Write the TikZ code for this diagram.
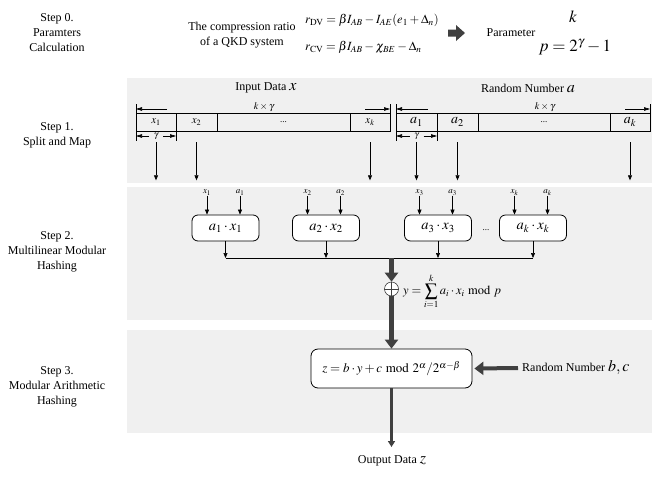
\documentclass[tikz,border=0pt]{standalone}
\usepackage{mathptmx}
\usepackage{fontspec}
\setmainfont{Liberation Serif}
\usetikzlibrary{arrows.meta}
\definecolor{bandgray}{HTML}{F0F0F0}
\definecolor{heavygray}{HTML}{404040}
\begin{document}
\begin{tikzpicture}[x=1pt,y=-1pt,
  lbl/.style={font=\fontsize{12}{15}\selectfont, align=center, inner sep=0},
  cell/.style={draw, line width=0.6pt, minimum height=18pt, inner sep=0, font=\fontsize{11}{13}\selectfont},
  mbox/.style={draw, rounded corners=6pt, line width=0.8pt, fill=white, minimum width=67pt, minimum height=26pt, inner sep=0, font=\fontsize{14.5}{16}\selectfont},
  thin/.style={-{Triangle[length=5pt,width=4pt]}, line width=0.6pt},
  dimarr/.style={-{Triangle[length=6pt,width=3.5pt]}, line width=0.6pt},
  heavy/.style={-{Triangle[length=9pt,width=13pt]}, line width=5pt, draw=heavygray},
  small/.style={font=\fontsize{9}{10}\selectfont, inner sep=0},
  band/.style={fill=bandgray, draw=none}]
\useasboundingbox (0,0) rectangle (654,491);
% bands
\fill[band] (127,78) rectangle (652,183);
\fill[band] (127,187) rectangle (652,320);
\fill[band] (127,330) rectangle (652,433);
% step labels
\node[lbl] (s0) at (57,33) {Step 0.\\Paramters\\Calculation};
\node[lbl] (s1) at (57,135) {Step 1.\\Split and Map};
\node[lbl] (s2) at (57,252) {Step 2.\\Multilinear Modular\\Hashing};
\node[lbl] (s3) at (57,387) {Step 3.\\Modular Arithmetic\\Hashing};
% step 0
\node[lbl] (cr) at (242,35) {The compression ratio\\of a QKD system};
\node[anchor=west, inner sep=0, font=\fontsize{12.5}{14}\selectfont] (rdv) at (305,20) {$r_{\mathrm{DV}} = \beta I_{AB} - I_{AE}(e_1+\Delta_n)$};
\node[anchor=west, inner sep=0, font=\fontsize{12.5}{14}\selectfont] (rcv) at (305,47) {$r_{\mathrm{CV}} = \beta I_{AB} - \chi_{BE} - \Delta_n$};
\fill[heavygray] (448,29.5) -- (456,29.5) -- (456,25) -- (465,33) -- (456,41) -- (456,36.5) -- (448,36.5) -- cycle;
\node[lbl] (par) at (511,33) {Parameter};
\node[inner sep=0, font=\fontsize{17}{17}\selectfont] (k) at (573,17) {$k$};
\node[inner sep=0, font=\fontsize{17}{17}\selectfont] (p) at (575,47) {$p=2^{\gamma}-1$};
% step 1 titles
\node[lbl] (inx) at (266,88) {Input Data \fontsize{16}{16}\selectfont$x$};
\node[lbl] (rna) at (528,88) {Random Number \fontsize{16}{16}\selectfont$a$};
% x cells
\node[cell, minimum width=40pt] (x1) at (156,122) {$x_1$};
\node[cell, minimum width=41pt] (x2) at (196.5,122) {$x_2$};
\node[cell, minimum width=133pt] (xd) at (283.5,122) {\fontsize{9}{9}\selectfont...};
\node[cell, minimum width=40pt] (xk) at (370,122) {$x_k$};
% a cells
\node[cell, minimum width=41pt, font=\fontsize{14}{14}\selectfont] (a1) at (416.5,122) {$a_1$};
\node[cell, minimum width=41pt, font=\fontsize{14}{14}\selectfont] (a2) at (457.5,122) {$a_2$};
\node[cell, minimum width=132pt] (ad) at (544,122) {\fontsize{9}{9}\selectfont...};
\node[cell, minimum width=40pt, font=\fontsize{14}{14}\selectfont] (ak) at (630,122) {$a_k$};
% dimension marks x
\coordinate (txa) at (136,104); \coordinate (txb) at (136,141);
\draw[line width=0.6pt] (txa) -- (txb);
\coordinate (txc) at (390,104); \coordinate (txd) at (390,113);
\draw[line width=0.6pt] (txc) -- (txd);
\coordinate (tge) at (176,131); \coordinate (tgf) at (176,141);
\draw[line width=0.6pt] (tge) -- (tgf);
\node[small, font=\fontsize{10}{10}\selectfont] (kgx) at (264,107) {$k\times\gamma$};
\coordinate (dx1) at (167,109); \coordinate (dx2) at (136,109);
\coordinate (dx3) at (365,109); \coordinate (dx4) at (390,109);
\draw[dimarr] (dx1) -- (dx2);
\draw[dimarr] (dx3) -- (dx4);
\node[small] (gx) at (156,136) {$\gamma$};
\coordinate (gx1) at (149,136); \coordinate (gx2) at (136,136);
\coordinate (gx3) at (163,136); \coordinate (gx4) at (176,136);
\draw[dimarr] (gx1) -- (gx2);
\draw[dimarr] (gx3) -- (gx4);
% dimension marks a
\coordinate (taa) at (396,104); \coordinate (tab) at (396,141);
\draw[line width=0.6pt] (taa) -- (tab);
\coordinate (tac) at (650,104); \coordinate (tad) at (650,113);
\draw[line width=0.6pt] (tac) -- (tad);
\coordinate (tae) at (437,131); \coordinate (taf) at (437,141);
\draw[line width=0.6pt] (tae) -- (taf);
\node[small, font=\fontsize{10}{10}\selectfont] (kga) at (545,107) {$k\times\gamma$};
\coordinate (da1) at (428,109); \coordinate (da2) at (396,109);
\coordinate (da3) at (625,109); \coordinate (da4) at (650,109);
\draw[dimarr] (da1) -- (da2);
\draw[dimarr] (da3) -- (da4);
\node[small] (ga) at (416.5,136) {$\gamma$};
\coordinate (ga1) at (409.5,136); \coordinate (ga2) at (396,136);
\coordinate (ga3) at (423.5,136); \coordinate (ga4) at (437,136);
\draw[dimarr] (ga1) -- (ga2);
\draw[dimarr] (ga3) -- (ga4);
% down arrows step 1
\foreach \n in {x1,x2,xk,a1,a2,ak}{
  \coordinate (\n e) at ([yshift=-49pt]\n.south);
  \draw[thin] ([yshift=-11pt]\n.south) -- (\n e);
}
% step 2 boxes
\node[mbox] (m1) at (225.5,228) {$a_1\cdot x_1$};
\node[mbox] (m2) at (326,228) {$a_2\cdot x_2$};
\node[mbox] (m3) at (438,228) {$a_3\cdot x_3$};
\node[mbox] (m4) at (533,228) {$a_k\cdot x_k$};
\node[small] (mdots) at (486,230) {...};
\foreach \m/\i in {m1/1,m2/2,m3/3,m4/k}{
  \node[small] (lx\m) at ([xshift=-18.5pt,yshift=22pt]\m.north) {$x_{\i}$};
  \node[small] (la\m) at ([xshift=14.5pt,yshift=22pt]\m.north) {$a_{\i}$};
  \draw[thin] (lx\m.south) -- (lx\m.south |- \m.north);
  \draw[thin] (la\m.south) -- (la\m.south |- \m.north);
}
\coordinate (busL) at (225.5,258);
\coordinate (busR) at (533,258);
\coordinate (busM) at (391.5,258);
\draw[line width=1pt] (busL) -- (busR);
\foreach \m in {m1,m2,m3,m4}{
  \draw[thin] (\m.south) -- (\m.south |- busL);
}
\node[circle, draw=heavygray, fill=white, line width=0.6pt, minimum size=14pt, inner sep=0] (op) at (391.5,289) {};
\draw[heavygray, line width=0.5pt] (op.north) -- (op.south) (op.west) -- (op.east);
\draw[heavy] (busM) -- (op.north);
\node[anchor=west, inner sep=0, font=\fontsize{12.5}{13}\selectfont] (yf) at (403,291) {$\displaystyle y=\sum_{i=1}^{k} a_i\cdot x_i \bmod p$};
% step 3
\node[draw, rounded corners=7pt, line width=0.8pt, fill=white, minimum width=161pt, minimum height=39pt, inner sep=0, font=\fontsize{13}{15}\selectfont] (zb) at (391.5,368.5) {$z=b\cdot y+c \bmod 2^{\alpha}/2^{\alpha-\beta}$};
\draw[heavy] (op.south) -- (zb.north);
\node[anchor=west, inner sep=0, font=\fontsize{12}{15}\selectfont] (rbc) at (522,368) {Random Number \fontsize{16}{16}\selectfont$b,c$};
\draw[heavy, line width=4pt] ([xshift=-4pt]rbc.west) -- ([xshift=2pt]zb.east);
\node[lbl] (out) at (392,461) {Output Data \fontsize{16}{16}\selectfont$z$};
\coordinate (oute) at (391.5,447);
\draw[-{Triangle[length=6pt,width=7pt]}, line width=2.5pt, heavygray] (zb.south) -- (oute);
\end{tikzpicture}
\end{document}
